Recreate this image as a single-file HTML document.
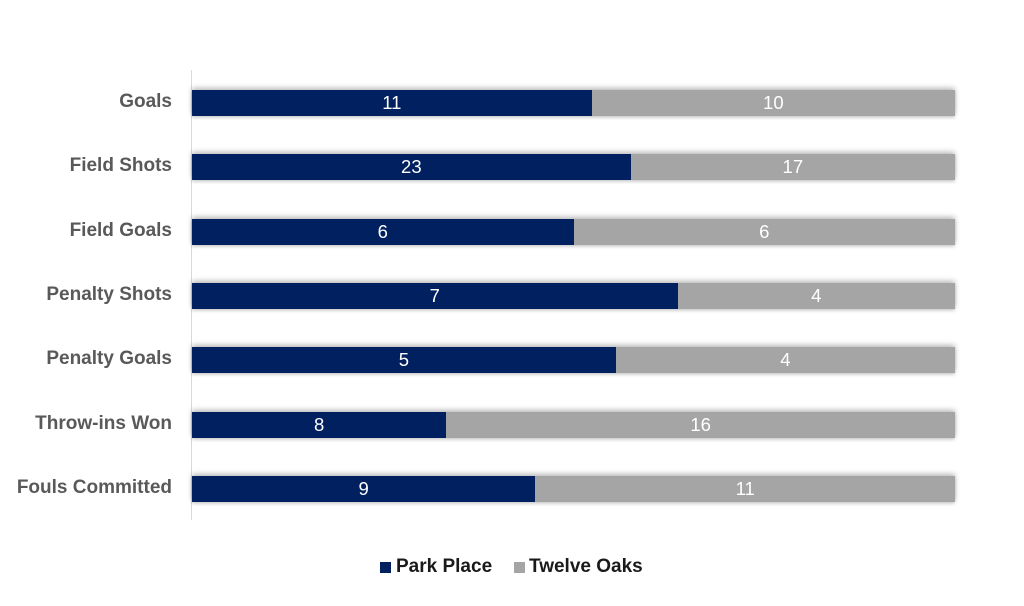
<!DOCTYPE html>
<html>
<head>
<meta charset="utf-8">
<style>
  html, body { margin:0; padding:0; background:#fff; }
  body { width:1024px; height:606px; position:relative; overflow:hidden; font-family:"Liberation Sans", sans-serif; }
  .axis { position:absolute; left:190.5px; top:70px; width:1px; height:450px; background:#d9d9d9; }
  .cat { position:absolute; right:852px; width:180px; text-align:right; font-weight:bold; font-size:19px; color:#595959; line-height:26px; white-space:nowrap; }
  .bar { position:absolute; left:192px; width:763px; height:26px; display:flex; box-shadow:0 -2px 5px rgba(0,0,0,0.28), 0 2px 3px rgba(0,0,0,0.15); }
  .s1 { background:#002060; color:#fff; height:26px; display:flex; align-items:center; justify-content:center; font-size:18.5px; }
  .s2 { background:#a5a5a5; color:#fff; height:26px; display:flex; align-items:center; justify-content:center; font-size:18.5px; flex:1; }
  .leg { position:absolute; top:555px; font-weight:bold; font-size:19px; color:#1a1a1a; line-height:24px; white-space:nowrap; }
  .sq { position:absolute; top:562px; width:11px; height:11px; }
</style>
</head>
<body>
  <div class="axis"></div>

  <div class="cat" style="top:89px;">Goals</div>
  <div class="bar" style="top:90px;"><div class="s1" style="width:399.7px;">11</div><div class="s2">10</div></div>

  <div class="cat" style="top:153.3px;">Field Shots</div>
  <div class="bar" style="top:154.3px;"><div class="s1" style="width:438.7px;">23</div><div class="s2">17</div></div>

  <div class="cat" style="top:217.6px;">Field Goals</div>
  <div class="bar" style="top:218.6px;"><div class="s1" style="width:381.5px;">6</div><div class="s2">6</div></div>

  <div class="cat" style="top:281.9px;">Penalty Shots</div>
  <div class="bar" style="top:282.9px;"><div class="s1" style="width:485.5px;">7</div><div class="s2">4</div></div>

  <div class="cat" style="top:346.2px;">Penalty Goals</div>
  <div class="bar" style="top:347.2px;"><div class="s1" style="width:423.9px;">5</div><div class="s2">4</div></div>

  <div class="cat" style="top:410.5px;">Throw-ins Won</div>
  <div class="bar" style="top:411.5px;"><div class="s1" style="width:254.3px;">8</div><div class="s2">16</div></div>

  <div class="cat" style="top:474.8px;">Fouls Committed</div>
  <div class="bar" style="top:475.8px;"><div class="s1" style="width:343.4px;">9</div><div class="s2">11</div></div>

  <div class="sq" style="left:380px; background:#002060;"></div>
  <div class="leg" style="left:396px;">Park Place</div>
  <div class="sq" style="left:514px; background:#a5a5a5;"></div>
  <div class="leg" style="left:529px;">Twelve Oaks</div>
</body>
</html>
